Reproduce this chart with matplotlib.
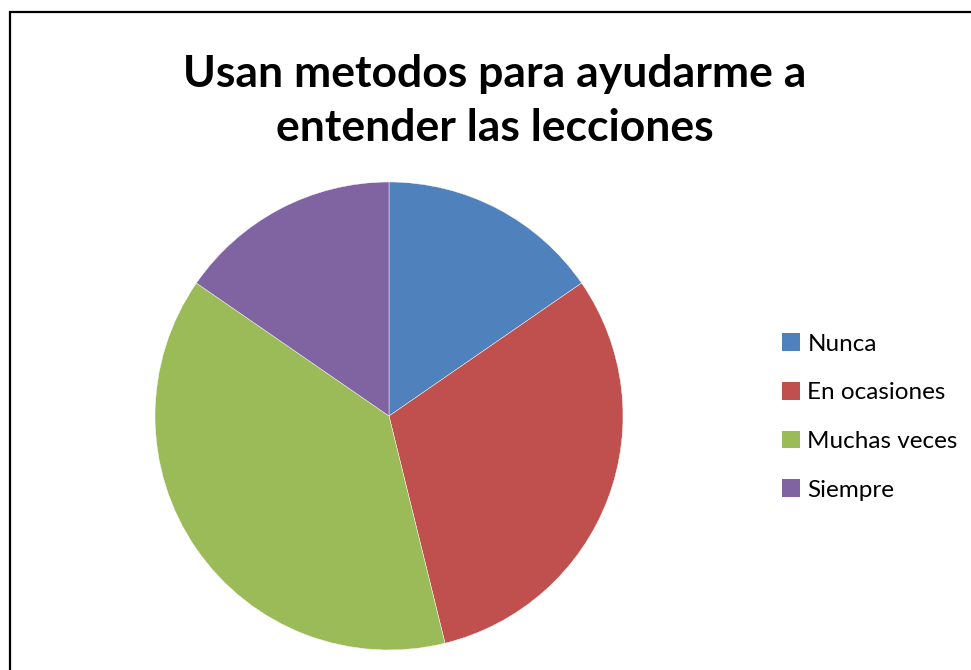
import matplotlib.pyplot as plt
from matplotlib.patches import Rectangle, Patch

categorias = ['Nunca', 'En ocasiones', 'Muchas veces', 'Siempre']
valores = [2, 4, 5, 2]
colores = ['#4f81bd', '#c0504d', '#9bbb59', '#8064a2']

plt.rcParams['font.family'] = ['Lato', 'DejaVu Sans']

fig = plt.figure(figsize=(9.71, 6.70), dpi=100)
W, H = 971.0, 670.0

# marco del grafico
fig.add_artist(Rectangle((10 / W, -0.05), 1.05, 1 - 12 / H + 0.05, transform=fig.transFigure,
                         fill=False, edgecolor='black', linewidth=1.6))

ax = fig.add_axes([(389 - 234) / W, (670 - 650) / H, 468 / W, 468 / H])
ax.pie(valores, colors=colores, startangle=90, counterclock=False, radius=1,
       wedgeprops={'edgecolor': 'white', 'linewidth': 0.3})
ax.set_xlim(-1, 1)
ax.set_ylim(-1, 1)
ax.set_aspect('equal')
ax.axis('off')

fig.text(495 / W, 1 - 101 / H, 'Usan metodos para ayudarme a\nentender las lecciones',
         ha='center', va='center', fontsize=32, fontweight='bold', linespacing=1.42)

handles = [Patch(facecolor=c, edgecolor='none') for c in colores]
fig.legend(handles, categorias, loc='center left', bbox_to_anchor=(760 / W, 1 - 417 / H),
           frameon=False, fontsize=17.5, handlelength=0.75, handleheight=0.75,
           handletextpad=0.3, labelspacing=1.12)

fig.savefig('out.png', dpi=100)
